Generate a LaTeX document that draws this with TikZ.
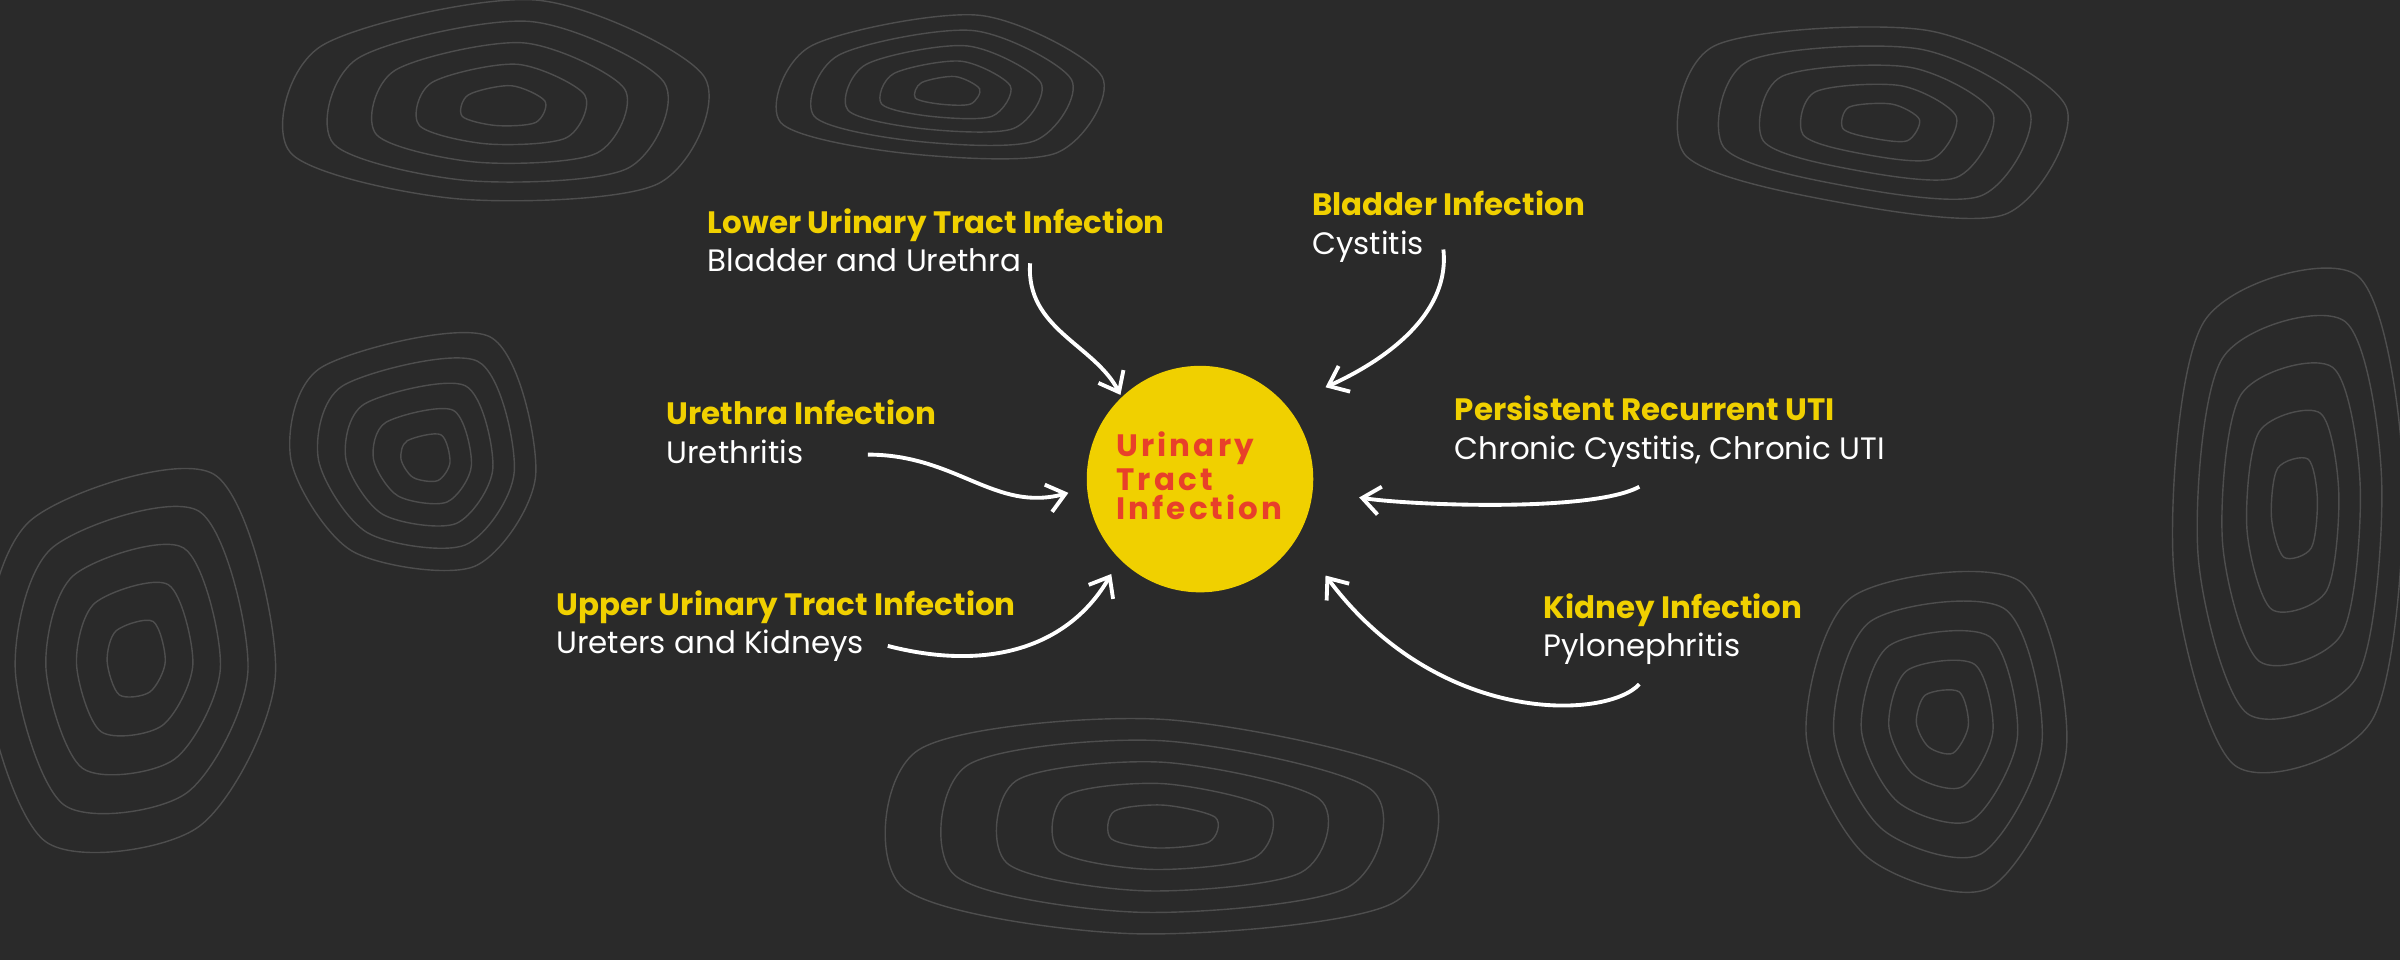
\documentclass[tikz,border=0pt]{standalone}
\usepackage{fontspec}
\setmainfont{Poppins}
\newfontfamily\spacedfont[LetterSpace=10]{Poppins}
\usetikzlibrary{arrows.meta}
\definecolor{bgdark}{HTML}{2A2A2A}
\definecolor{contour}{HTML}{4E4E4E}
\definecolor{utiyellow}{HTML}{F0D000}
\definecolor{utired}{HTML}{E8402A}
\tikzset{
  label/.style={anchor=west,align=left,inner sep=0pt,font=\fontsize{8.8}{10.9}\selectfont,text=white},
  curvy/.style={white,line width=1.1pt,-{Straight Barb[length=5pt,width=8pt]}},
}
\newcommand{\ttl}[1]{\textcolor{utiyellow}{\bfseries #1}}

\begin{document}
\begin{tikzpicture}[x=0.01531cm,y=-0.01531cm]
    \fill[bgdark] (0,0) rectangle (1568,627);
    \useasboundingbox (0,0) rectangle (1568,627);

    % contour lines
    \begin{scope}[contour,line width=0.4pt]
      \foreach \s in {1,0.8,0.6,0.4,0.2}{
        \draw[shift={(1500,330)},scale=\s] plot[smooth cycle] coordinates {(-60,-120) (40,-150) (70,-20) (50,140) (-40,170) (-80,40)};
        \draw[shift={(90,430)},scale=\s] plot[smooth cycle] coordinates {(-70,-90) (50,-120) (90,10) (40,110) (-60,120) (-100,10)};
        \draw[shift={(330,70)},scale=\s] plot[smooth cycle] coordinates {(-120,-40) (20,-70) (130,-20) (100,50) (-30,60) (-140,30)};
        \draw[shift={(1230,80)},scale=\s] plot[smooth cycle] coordinates {(-110,-50) (30,-60) (120,-10) (80,60) (-40,50) (-130,20)};
        \draw[shift={(760,540)},scale=\s] plot[smooth cycle] coordinates {(-160,-50) (0,-70) (170,-30) (150,50) (-20,70) (-170,40)};
        \draw[shift={(1270,470)},scale=\s] plot[smooth cycle] coordinates {(-60,-80) (50,-90) (80,20) (30,110) (-50,90) (-90,10)};
        \draw[shift={(280,300)},scale=\s] plot[smooth cycle] coordinates {(-70,-60) (40,-80) (70,10) (30,70) (-50,60) (-90,0)};
        \draw[shift={(620,60)},scale=\s] plot[smooth cycle] coordinates {(-90,-30) (20,-50) (100,-10) (70,40) (-30,40) (-110,20)};
      }
    \end{scope}

    % centre
    \fill[utiyellow] (784,313) circle (74);
    \node[anchor=west,align=left,inner sep=0pt,text=utired,font=\spacedfont\bfseries\fontsize{8.8}{8.3}\selectfont] (uti) at (729,311) {Urinary\\Tract\\Infection};

    % labels
    \node[label] (lower) at (462,157) {\ttl{Lower Urinary Tract Infection}\\Bladder and Urethra};
    \node[label] (bladder) at (857,148) {\ttl{Bladder Infection}\\Cystitis};
    \node[label] (urethra) at (435,282) {\ttl{Urethra Infection}\\Urethritis};
    \node[label] (persist) at (950,282) {\ttl{Persistent Recurrent UTI}\\Chronic Cystitis, Chronic UTI};
    \node[label] (upper) at (363,409) {\ttl{Upper Urinary Tract Infection}\\Ureters and Kidneys};
    \node[label] (kidney) at (1008,411) {\ttl{Kidney Infection}\\Pylonephritis};

    % arrow ends
    \coordinate (a1) at (673,172);   \coordinate (b1) at (732,258);
    \coordinate (a2) at (943,163);   \coordinate (b2) at (866,253);
    \coordinate (a3) at (567,297);   \coordinate (b3) at (698,322);
    \coordinate (a4) at (580,422);   \coordinate (b4) at (726,375);
    \coordinate (a5) at (1071,318);  \coordinate (b5) at (888,325);
    \coordinate (a6) at (1071,447);  \coordinate (b6) at (866,376);

    \draw[curvy] (a1) .. controls (670,215) and (715,225) .. (b1);
    \draw[curvy] (a2) .. controls (948,210) and (895,240) .. (b2);
    \draw[curvy] (a3) .. controls (625,297) and (650,335) .. (b3);
    \draw[curvy] (a4) .. controls (650,440) and (700,420) .. (b4);
    \draw[curvy] (a5) .. controls (1040,335) and (920,330) .. (b5);
    \draw[curvy] (a6) .. controls (1050,470) and (940,475) .. (b6);
  \end{tikzpicture}
\end{document}
